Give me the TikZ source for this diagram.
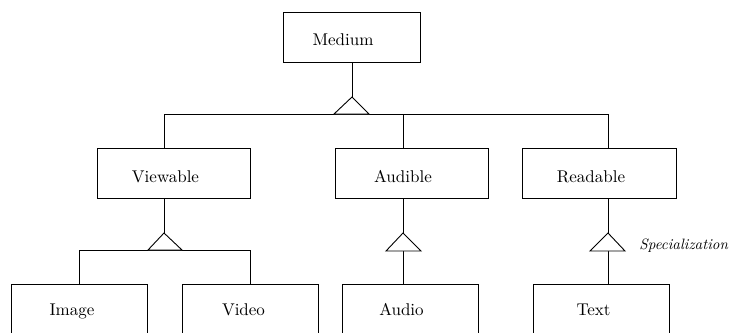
\documentclass[tikz,border=0pt]{standalone}
% 10pt design size scaled up, for a sturdier text face
\font\entfont="[lmroman10-regular.otf]" at 17pt
\font\specfont="[lmroman10-italic.otf]" at 15pt
\begin{document}
\begin{tikzpicture}[x=1pt,y=-1pt,line width=0.9pt,
  entity/.style={draw, minimum width=#1, minimum height=50pt, inner sep=0pt},
  lbl/.style={font=\entfont, anchor=base, inner sep=0pt},
  isa/.style={draw, fill=white, line join=miter}]
\useasboundingbox (0,0) rectangle (730,332);
\clip (0,0) rectangle (730,332);

% entity boxes
\node[entity=137pt] (medium)   at (351.5,37) {};
\node[entity=153pt] (viewable) at (173.5,173) {};
\node[entity=153pt] (audible)  at (411.5,173) {};
\node[entity=154pt] (readable) at (599,173) {};
\node[entity=136pt] (image)    at (79,309) {};
\node[entity=136pt] (video)    at (250,309) {};
\node[entity=136pt] (audio)    at (410,309) {};
\node[entity=136pt] (text)     at (601,309) {};

% box labels
\node[lbl] (mediumL)   at (343,45)    {Medium};
\node[lbl] (viewableL) at (165.5,182) {Viewable};
\node[lbl] (audibleL)  at (403,182)   {Audible};
\node[lbl] (readableL) at (591,182)   {Readable};
\node[lbl] (imageL)    at (72,315)    {Image};
\node[lbl] (videoL)    at (243.5,315) {Video};
\node[lbl] (audioL)    at (401.5,315) {Audio};
\node[lbl] (textL)     at (593.5,315) {Text};

% junction points
\coordinate (t0) at (352,97);
\coordinate (b0l) at (164,114);
\coordinate (b0a) at (403,114);
\coordinate (b0r) at (608,114);
\coordinate (t1) at (164,233);
\coordinate (b1l) at (79,250);
\coordinate (b1r) at (250,250);
\coordinate (t2) at (403,233);
\coordinate (t3) at (608,233);

% Medium generalisation
\draw (t0 |- medium.south) -- (t0);
\draw (b0l |- viewable.north) -- (b0l) -- (b0r) -- (b0r |- readable.north);
\draw (b0a) -- (b0a |- audible.north);
\draw[isa] (t0) -- (334,114) -- (369,114) -- cycle;

% Viewable generalisation
\draw (t1 |- viewable.south) -- (t1);
\draw (image.north) -- (b1l) -- (b1r) -- (video.north);
\draw[isa] (t1) -- (148,250) -- (182,250) -- cycle;

% Audible generalisation
\draw (t2 |- audible.south) -- (t2);
\draw (403,251) -- (t2 |- audio.north);
\draw[isa] (t2) -- (386,251) -- (421,251) -- cycle;

% Readable generalisation
\draw (t3 |- readable.south) -- (t3);
\draw (608,251) -- (t3 |- text.north);
\draw[isa] (t3) -- (590,251) -- (625,251) -- cycle;

\node[font=\specfont, anchor=base west, inner sep=0pt]
  (spec) at (639,249) {Specialization};
\end{tikzpicture}
\end{document}
